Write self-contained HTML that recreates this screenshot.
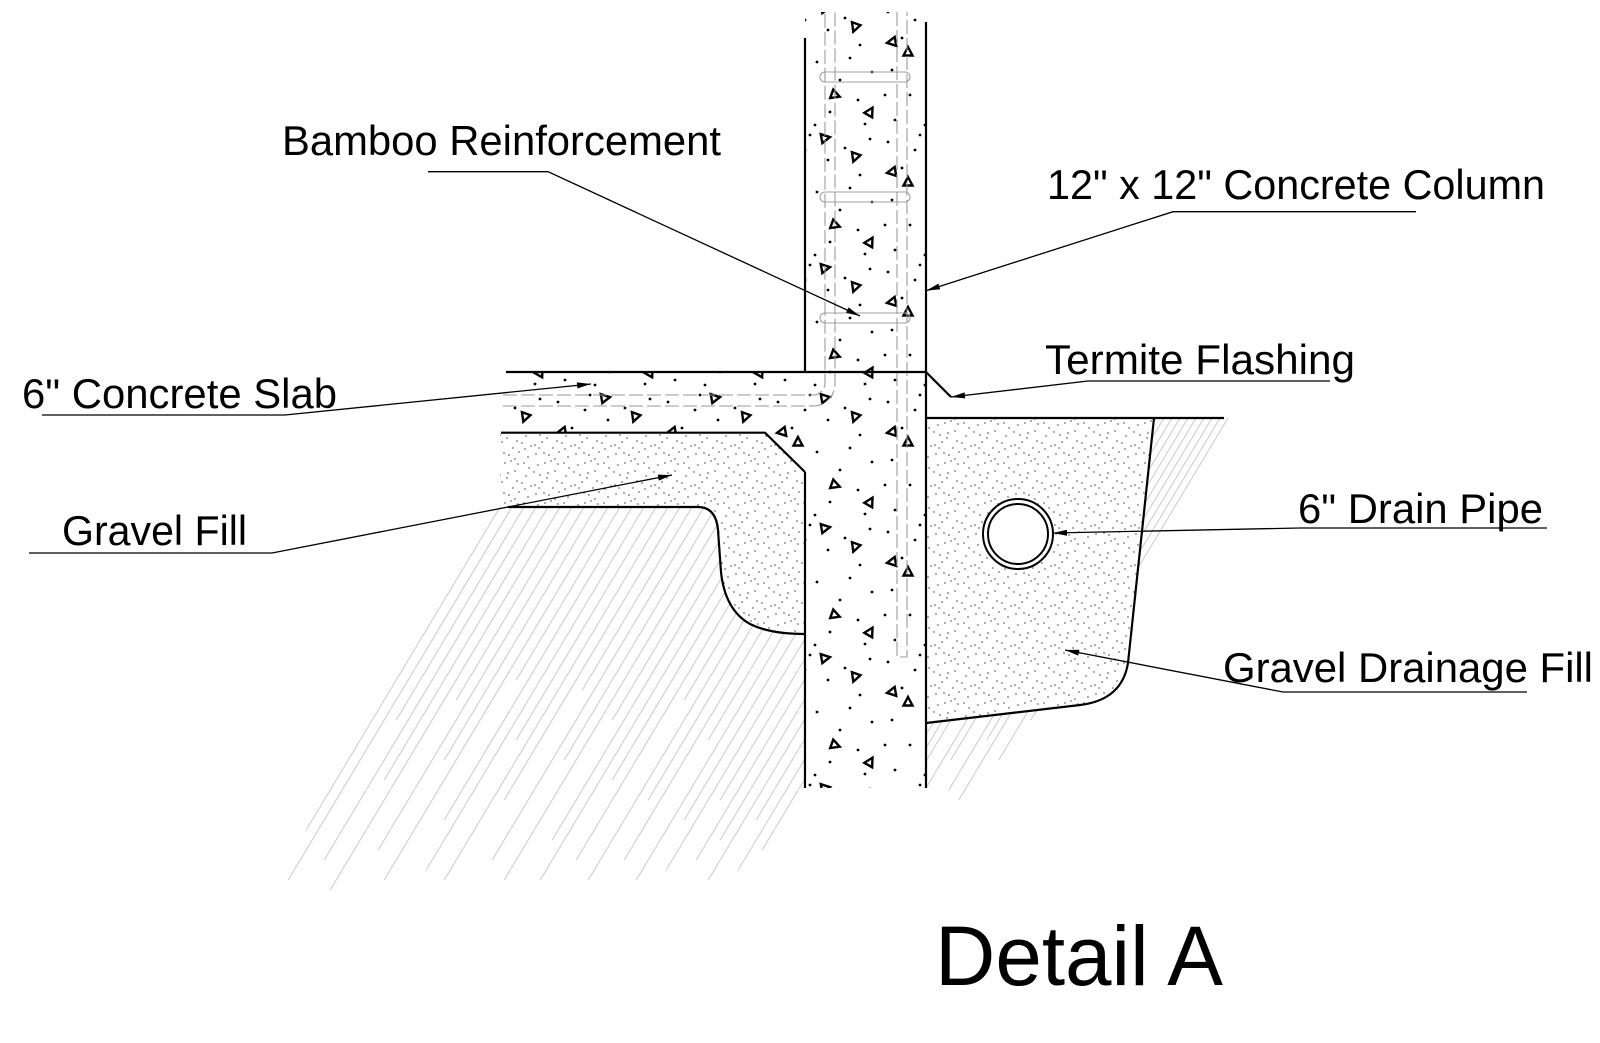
<!DOCTYPE html>
<html>
<head>
<meta charset="utf-8">
<style>
  html, body { margin: 0; padding: 0; background: #fff; }
  svg { display: block; }
  text { font-family: "Liberation Sans", Arial, sans-serif; fill: #000; }
</style>
</head>
<body>
<svg width="1600" height="1043" viewBox="0 0 1600 1043" xmlns="http://www.w3.org/2000/svg">
  <defs>
    <pattern id="grav" width="40" height="40" patternUnits="userSpaceOnUse">
      <g fill="#000">
        <circle cx="2" cy="3" r="0.65"/><circle cx="15" cy="5" r="0.65"/>
        <circle cx="22" cy="2" r="0.65"/><circle cx="37" cy="1" r="0.65"/>
        <circle cx="5" cy="9" r="0.65"/><circle cx="19" cy="8" r="0.65"/>
        <circle cx="33" cy="8" r="0.65"/><circle cx="39" cy="12" r="0.65"/>
        <circle cx="8" cy="17" r="0.65"/><circle cx="16" cy="14" r="0.65"/>
        <circle cx="29" cy="15" r="0.65"/><circle cx="35" cy="19" r="0.65"/>
        <circle cx="4" cy="23" r="0.65"/><circle cx="18" cy="25" r="0.65"/>
        <circle cx="25" cy="23" r="0.65"/><circle cx="38" cy="24" r="0.65"/>
        <circle cx="9" cy="28" r="0.65"/><circle cx="14" cy="32" r="0.65"/>
        <circle cx="28" cy="33" r="0.65"/><circle cx="35" cy="31" r="0.65"/>
        <circle cx="6" cy="36" r="0.65"/><circle cx="20" cy="35" r="0.65"/>
        <circle cx="27" cy="38" r="0.65"/><circle cx="24" cy="13" r="0.65"/>
        <circle cx="11" cy="6" r="0.65"/><circle cx="31" cy="21" r="0.65"/>
      </g>
    </pattern>
    <pattern id="conc" width="110" height="130" patternUnits="userSpaceOnUse">
      <g fill="#000">
        <circle cx="8" cy="12" r="1.4"/><circle cx="40" cy="5" r="1.4"/><circle cx="75" cy="18" r="1.4"/>
        <circle cx="100" cy="9" r="1.4"/><circle cx="22" cy="38" r="1.4"/><circle cx="58" cy="30" r="1.4"/>
        <circle cx="90" cy="45" r="1.4"/><circle cx="12" cy="70" r="1.4"/><circle cx="47" cy="62" r="1.4"/>
        <circle cx="70" cy="80" r="1.4"/><circle cx="102" cy="72" r="1.4"/><circle cx="30" cy="95" r="1.4"/>
        <circle cx="60" cy="112" r="1.4"/><circle cx="88" cy="100" r="1.4"/><circle cx="15" cy="120" r="1.4"/>
        <circle cx="45" cy="125" r="1.4"/><circle cx="95" cy="124" r="1.4"/><circle cx="35" cy="20" r="1.4"/>
        <circle cx="80" cy="58" r="1.4"/><circle cx="5" cy="95" r="1.4"/>
      </g>
      <g fill="none" stroke="#000" stroke-width="2.4" stroke-linejoin="miter">
        <path transform="translate(28,52)" d="M0,-5 L4.5,3.5 L-4.5,3.5 Z"/>
        <path transform="translate(85,27) rotate(200)" d="M0,-5 L4.5,3.5 L-4.5,3.5 Z"/>
        <path transform="translate(65,95) rotate(110)" d="M0,-5 L4.5,3.5 L-4.5,3.5 Z"/>
        <path transform="translate(100,112) rotate(30)" d="M0,-5 L4.5,3.5 L-4.5,3.5 Z"/>
        <path transform="translate(12,42) rotate(260)" d="M0,-5 L4.5,3.5 L-4.5,3.5 Z"/>
        <path transform="translate(55,8) rotate(80)" d="M0,-5 L4.5,3.5 L-4.5,3.5 Z"/>
      </g>
    </pattern>
    <clipPath id="hl">
      <path d="M498,507 L698,507 Q716,507 718,530 L721,572 Q725,610 750,624 Q770,634 805,634 L805,900 L262,900 Z"/>
    </clipPath>
    <clipPath id="hr">
      <path d="M1154,418 L1232,418 L985,830 L926,830 L926,723 L1080,705 Q1122,700 1128,663 Z"/>
    </clipPath>
  </defs>

  <path d="M805,12 L926,12 L926,788 L805,788 L805,472 L765,432.7 L503,432.7 L503,372 L805,372 Z" fill="url(#conc)"/>

  <path d="M500,432.7 L765,432.7 L805,472 L805,634 Q770,634 750,624 Q725,610 721,572 L718,530 Q716,507 698,507 L500,507 Z" fill="url(#grav)"/>
  <path d="M926,418 L1154,418 L1128,663 Q1122,700 1080,705 L926,723 Z" fill="url(#grav)"/>

  <g clip-path="url(#hl)" stroke="#c9c9c9" stroke-width="1">
    <line x1="306.2" y1="830" x2="507.2" y2="495"/>
    <line x1="288.2" y1="880" x2="519.2" y2="495"/>
    <line x1="396.2" y1="720" x2="531.2" y2="495"/>
    <line x1="324.2" y1="860" x2="543.2" y2="495"/>
    <line x1="384.2" y1="780" x2="555.2" y2="495"/>
    <line x1="330.2" y1="890" x2="567.2" y2="495"/>
    <line x1="456.2" y1="700" x2="579.2" y2="495"/>
    <line x1="378.2" y1="850" x2="591.2" y2="495"/>
    <line x1="444.2" y1="760" x2="603.2" y2="495"/>
    <line x1="384.2" y1="880" x2="615.2" y2="495"/>
    <line x1="516.2" y1="680" x2="627.2" y2="495"/>
    <line x1="444.2" y1="820" x2="639.2" y2="495"/>
    <line x1="426.2" y1="870" x2="651.2" y2="495"/>
    <line x1="516.2" y1="740" x2="663.2" y2="495"/>
    <line x1="444.2" y1="880" x2="675.2" y2="495"/>
    <line x1="504.2" y1="800" x2="687.2" y2="495"/>
    <line x1="582.2" y1="690" x2="699.2" y2="495"/>
    <line x1="492.2" y1="860" x2="711.2" y2="495"/>
    <line x1="564.2" y1="760" x2="723.2" y2="495"/>
    <line x1="504.2" y1="880" x2="735.2" y2="495"/>
    <line x1="612.2" y1="720" x2="747.2" y2="495"/>
    <line x1="552.2" y1="840" x2="759.2" y2="495"/>
    <line x1="540.2" y1="880" x2="771.2" y2="495"/>
    <line x1="612.2" y1="780" x2="783.2" y2="495"/>
    <line x1="576.2" y1="860" x2="795.2" y2="495"/>
    <line x1="684.2" y1="700" x2="807.2" y2="495"/>
    <line x1="588.2" y1="880" x2="819.2" y2="495"/>
    <line x1="648.2" y1="800" x2="831.2" y2="495"/>
    <line x1="624.2" y1="860" x2="843.2" y2="495"/>
    <line x1="708.2" y1="740" x2="855.2" y2="495"/>
    <line x1="636.2" y1="880" x2="867.2" y2="495"/>
    <line x1="684.2" y1="820" x2="879.2" y2="495"/>
    <line x1="666.2" y1="870" x2="891.2" y2="495"/>
    <line x1="720.2" y1="800" x2="903.2" y2="495"/>
    <line x1="696.2" y1="860" x2="915.2" y2="495"/>
    <line x1="720.2" y1="840" x2="927.2" y2="495"/>
    <line x1="708.2" y1="880" x2="939.2" y2="495"/>
    <line x1="756.2" y1="820" x2="951.2" y2="495"/>
    <line x1="738.2" y1="870" x2="963.2" y2="495"/>
    <line x1="762.2" y1="850" x2="975.2" y2="495"/>
  </g>

  <g clip-path="url(#hr)" stroke="#c9c9c9" stroke-width="1">
    <line x1="860.8" y1="790" x2="1088.8" y2="410"/>
    <line x1="886.8" y1="760" x2="1096.8" y2="410"/>
    <line x1="867.8" y1="805" x2="1104.8" y2="410"/>
    <line x1="914.8" y1="740" x2="1112.8" y2="410"/>
    <line x1="892.8" y1="790" x2="1120.8" y2="410"/>
    <line x1="912.8" y1="770" x2="1128.8" y2="410"/>
    <line x1="896.8" y1="810" x2="1136.8" y2="410"/>
    <line x1="958.8" y1="720" x2="1144.8" y2="410"/>
    <line x1="918.8" y1="800" x2="1152.8" y2="410"/>
    <line x1="950.8" y1="760" x2="1160.8" y2="410"/>
    <line x1="994.8" y1="700" x2="1168.8" y2="410"/>
    <line x1="948.8" y1="790" x2="1176.8" y2="410"/>
    <line x1="986.8" y1="740" x2="1184.8" y2="410"/>
    <line x1="958.8" y1="800" x2="1192.8" y2="410"/>
    <line x1="1038.8" y1="680" x2="1200.8" y2="410"/>
    <line x1="998.8" y1="760" x2="1208.8" y2="410"/>
    <line x1="1030.8" y1="720" x2="1216.8" y2="410"/>
    <line x1="1080.8" y1="650" x2="1224.8" y2="410"/>
    <line x1="1058.8" y1="700" x2="1232.8" y2="410"/>
  </g>

  <g fill="none" stroke="#9a9a9a" stroke-width="1.1" stroke-dasharray="14 4">
    <path d="M503,395 L813,395 A12,12 0 0 0 825,383 L825,12"/>
    <path d="M503,406 L813,406 A22,22 0 0 0 835,384 L835,12"/>
    <path d="M897,12 L897,657 L907,657 L907,12"/>
  </g>
  <g fill="none" stroke="#a0a0a0" stroke-width="1.1">
    <rect x="820" y="72" width="90" height="10" rx="5"/>
    <rect x="820" y="192" width="90" height="10" rx="5"/>
    <rect x="820" y="313" width="90" height="10" rx="5"/>
  </g>

  <g fill="none" stroke="#000" stroke-width="2.2" stroke-linejoin="miter">
    <line x1="805" y1="38" x2="805" y2="372"/>
    <line x1="926" y1="22" x2="926" y2="788"/>
    <line x1="805" y1="472" x2="805" y2="788"/>
    <line x1="506" y1="372" x2="926" y2="372"/>
    <polyline points="501,432.7 765,432.7 805,472"/>
    <path d="M508,507 L698,507 Q716,507 718,530 L721,572 Q725,610 750,624 Q770,634 805,634"/>
    <line x1="926" y1="372" x2="951" y2="397"/>
    <line x1="926" y1="418" x2="1224" y2="418"/>
    <path d="M1154,418 L1128,663 Q1122,700 1080,705 L926,723"/>
  </g>

  <circle cx="1018" cy="534" r="35" fill="#fff" stroke="#000" stroke-width="2"/>
  <circle cx="1018" cy="534" r="30" fill="none" stroke="#000" stroke-width="2"/>

  <g fill="none" stroke="#000" stroke-width="1.3">
    <polyline points="428,171.7 548,171.7 860,316"/>
    <polyline points="1416,211.7 1173,211.7 926,290.7"/>
    <polyline points="1330,381 1088,381 951,397"/>
    <polyline points="1547,528 1300,528 1053,533"/>
    <polyline points="1527,692 1283,692 1065,650"/>
    <polyline points="42,415 285,415 591,384"/>
    <polyline points="29,553 272,553 672,475"/>
  </g>
  <g fill="#000">
    <polygon points="860,316 846.0,312.8 848.6,307.4"/>
    <polygon points="926,290.7 938.4,283.6 940.2,289.3"/>
    <polygon points="951,397 964.6,392.4 965.2,398.4"/>
    <polygon points="1053,533 1067,529.7 1067,535.7"/>
    <polygon points="1065,650 1079.3,649.7 1078.2,655.6"/>
    <polygon points="591,384 577.4,388.4 576.8,382.4"/>
    <polygon points="672,475 658.8,480.6 657.7,474.7"/>
  </g>

  <g font-size="42">
    <text x="282" y="155" textLength="439" lengthAdjust="spacingAndGlyphs">Bamboo Reinforcement</text>
    <text x="1047" y="199" textLength="498" lengthAdjust="spacingAndGlyphs">12" x 12" Concrete Column</text>
    <text x="22" y="408" textLength="315" lengthAdjust="spacingAndGlyphs">6" Concrete Slab</text>
    <text x="1045" y="374" textLength="310" lengthAdjust="spacingAndGlyphs">Termite Flashing</text>
    <text x="62" y="545" textLength="185" lengthAdjust="spacingAndGlyphs">Gravel Fill</text>
    <text x="1298" y="523" textLength="245" lengthAdjust="spacingAndGlyphs">6" Drain Pipe</text>
    <text x="1223" y="682" textLength="370" lengthAdjust="spacingAndGlyphs">Gravel Drainage Fill</text>
  </g>
  <text x="935" y="985" font-size="84" textLength="288" lengthAdjust="spacingAndGlyphs">Detail A</text>
</svg>
</body>
</html>
